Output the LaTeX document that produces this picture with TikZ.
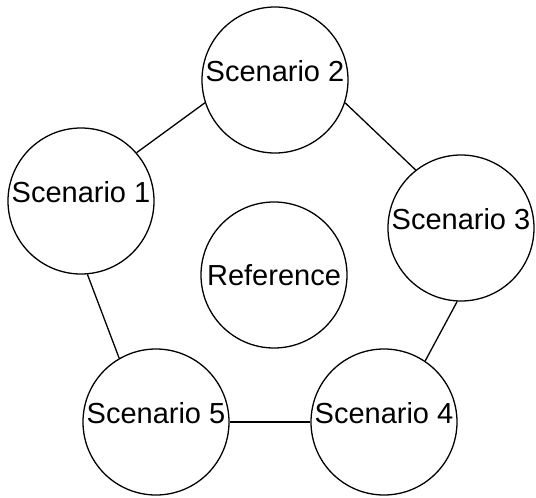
\documentclass[tikz,border=0pt]{standalone}
\usepackage{fontspec}
\setmainfont{Liberation Sans}
\usepackage{tikz}
\newcommand{\linecolor}{black}
\newcommand{\thickness}{1.3pt}
\newcommand{\diam}{146pt}

\begin{document}
\begin{tikzpicture}[x=1pt, y=-1pt,
  scen/.style={circle, draw=\linecolor, line width=\thickness, minimum size=\diam, inner sep=0pt,
    font=\fontsize{29}{29}\selectfont, text depth=18pt},
  hub/.style={circle, draw=\linecolor, line width=\thickness, minimum size=\diam, inner sep=0pt,
    font=\fontsize{29}{29}\selectfont}]
\useasboundingbox (0, 0) rectangle (536, 498);
\node[scen] (s1) at (81, 201) {Scenario 1};
\node[scen] (s2) at (275, 80) {Scenario 2};
\node[scen] (s3) at (461, 228) {Scenario 3};
\node[scen] (s4) at (384, 422) {Scenario 4};
\node[scen] (s5) at (156, 422) {Scenario 5};
\node[hub] (ref) at (274, 275) {Reference};
%ring
\draw[\linecolor] [line width = \thickness] (s1.41) -- (s2.198);
\draw[\linecolor] [line width = \thickness] (s2.-18) -- (s3.128);
\draw[\linecolor] [line width = \thickness] (s3.-93) -- (s4.56);
\draw[\linecolor] [line width = \thickness] (s4.180) -- (s5.0);
\draw[\linecolor] [line width = \thickness] (s5.120) -- (s1.-85);
\end{tikzpicture}
\end{document}
